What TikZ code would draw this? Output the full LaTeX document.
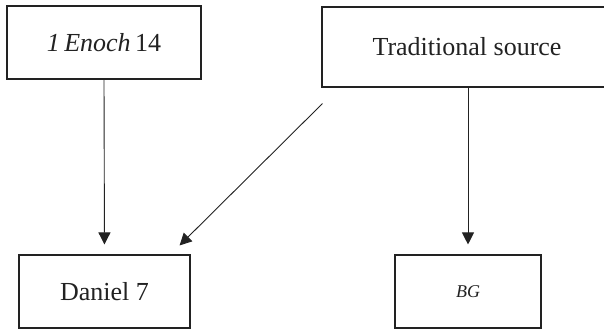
\documentclass[tikz,border=0pt]{standalone}
\usepackage{fontspec}
\setmainfont{Liberation Serif}
\usetikzlibrary{arrows.meta,positioning}
\definecolor{BoxInk}{HTML}{222222}

\begin{document}
\begin{tikzpicture}[x=1pt,y=1pt,>={Triangle[length=12pt,width=12pt]}]
\tikzset{
  source/.style={draw=BoxInk,line width=1.1pt,align=center,text=BoxInk,fill=white,font=\fontsize{26}{30}\selectfont,inner sep=0pt},
  link/.style={draw=BoxInk,line width=0.9pt,->,shorten >=10pt}
}
\useasboundingbox (0,0) rectangle (604,330);
\node[source,minimum width=194pt,minimum height=73pt] (enoch) at (104,287.5) {\textit{1\,Enoch}\,14};
\node[source,minimum width=290pt,minimum height=80pt] (trad) at (467,283) {Traditional source};
\node[source,minimum width=171pt,minimum height=73pt] (daniel) at (104.5,38.5) {Daniel 7};
\node[source,minimum width=146pt,minimum height=73pt] (bg) at (468,38.5) {\fontsize{18}{21}\selectfont\textit{BG}};

\draw[link] (enoch.south) -- (daniel.north);
\draw[link] (bg |- trad.south) -- (bg.north);
\draw[link,shorten >=0pt] ([shift={(1,-16)}]trad.south west) -- ([shift={(-11,9)}]daniel.north east);
\end{tikzpicture}
\end{document}
